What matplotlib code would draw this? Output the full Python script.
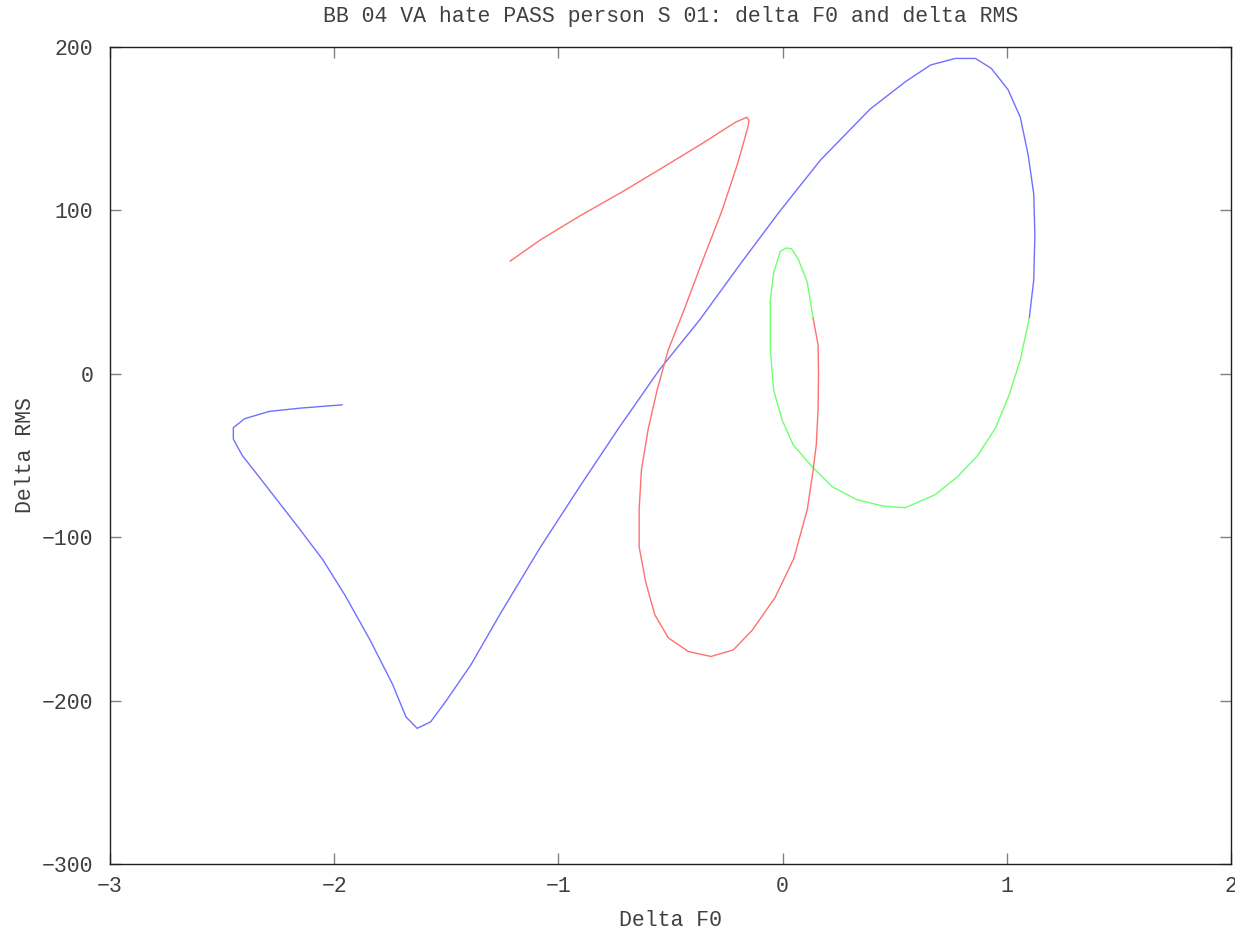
import matplotlib
matplotlib.use('Agg')
import matplotlib.pyplot as plt
import numpy as np

# trajectory in (delta F0, delta RMS), drawn in three coloured parts
blue_f0 = [-1.965, -2.15, -2.29, -2.40, -2.45, -2.45, -2.41, -2.33, -2.16, -2.05, -1.95,
           -1.84, -1.74, -1.68, -1.63, -1.57, -1.50, -1.39, -1.26, -1.08, -0.90, -0.73,
           -0.55, -0.37, -0.19, -0.01, 0.17, 0.39, 0.55, 0.66, 0.77, 0.86, 0.93, 1.005,
           1.06, 1.095, 1.12, 1.125, 1.12, 1.10]
blue_rms = [-19, -21, -23, -27.5, -33, -40, -50, -64, -94, -114, -136,
            -163, -190, -210, -217, -213, -200, -178, -147, -106, -68, -33,
            2.4, 33, 67, 100, 131, 162, 179, 189, 193, 193, 187, 174,
            157, 134, 110, 85, 57.5, 34]

green_f0 = [1.10, 1.06, 1.01, 0.95, 0.87, 0.78, 0.68, 0.546, 0.45, 0.33, 0.22, 0.136,
            0.047, -0.003, -0.04, -0.055, -0.055, -0.04, -0.01, 0.015, 0.04, 0.07,
            0.11, 0.136]
green_rms = [34, 8.6, -13, -33, -50, -63, -74, -82, -81, -77, -69, -57.5,
             -43.5, -28, -10, 14.7, 45, 62, 75, 77, 76.5, 70,
             56, 34]

red_f0 = [0.136, 0.158, 0.16, 0.158, 0.15, 0.136, 0.11, 0.05, -0.034, -0.136, -0.22,
          -0.32, -0.42, -0.51, -0.57, -0.61, -0.64, -0.64, -0.63, -0.60, -0.56, -0.51,
          -0.44, -0.355, -0.27, -0.20, -0.155, -0.15, -0.16, -0.21, -0.37, -0.55,
          -0.72, -0.90, -1.08, -1.215]
red_rms = [34, 17.7, -0.6, -22, -43.5, -59, -83, -113, -137, -157, -169,
           -173, -170, -161.6, -147.5, -128, -106, -83, -59, -34, -10, 14.7,
           39, 70, 100, 129, 151, 155, 157, 154, 140, 125,
           111, 97, 82, 69]

x_ticks = [-3, -2, -1, 0, 1, 2]
y_ticks = [-300, -200, -100, 0, 100, 200]

font = 'Liberation Mono'
fs = 15.5
txt = '#404040'

fig = plt.figure(figsize=(12.35, 9.31), dpi=100)
ax = fig.add_axes([0.0891, 0.072, 0.9077, 0.8775])

ax.plot(blue_f0, blue_rms, color='#7070ff', lw=1)
ax.plot(green_f0, green_rms, color='#70ff70', lw=1)
ax.plot(red_f0, red_rms, color='#ff7070', lw=1)

ax.set_xlim(-3, 2)
ax.set_ylim(-300, 200)
ax.set_xticks(x_ticks)
ax.set_yticks(y_ticks)
ax.tick_params(direction='in', length=8, width=1, color='#808080',
               top=True, right=True, labelsize=fs, labelcolor=txt)
ax.tick_params(axis='x', pad=9)
ax.tick_params(axis='y', pad=12)
for lab in ax.get_xticklabels() + ax.get_yticklabels():
    lab.set_family(font)
for s in ax.spines.values():
    s.set_color('#202020')
    s.set_linewidth(1)

ax.set_title('BB 04 VA hate PASS person S 01: delta F0 and delta RMS',
             family=font, fontsize=fs, color=txt, pad=18)
ax.set_xlabel('Delta F0', family=font, fontsize=fs, color=txt, labelpad=9)
ax.set_ylabel('Delta RMS', family=font, fontsize=fs, color=txt, labelpad=4)

fig.savefig('out.png', dpi=100)
